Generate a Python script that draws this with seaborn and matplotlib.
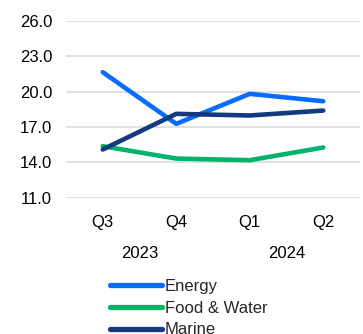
import matplotlib
matplotlib.use("Agg")
import matplotlib.pyplot as plt
import seaborn as sns
import pandas as pd

quarters = ["Q3", "Q4", "Q1", "Q2"]
years = ["2023", "2024"]
series_names = ["Energy", "Food & Water", "Marine"]
energy = [21.65, 17.26, 19.81, 19.18]
food_water = [15.36, 14.31, 14.17, 15.25]
marine = [15.08, 18.11, 17.97, 18.39]
y_ticks = [11.0, 14.0, 17.0, 20.0, 23.0, 26.0]
colors = ["#0A6CFF", "#00B26A", "#133A7E"]

sns.set_theme(style="white")
plt.rcParams["font.family"] = ["Liberation Sans", "DejaVu Sans"]

rows = []
for name, vals in zip(series_names, [energy, food_water, marine]):
    for q, v in zip(quarters, vals):
        rows.append({"quarter": q, "value": v, "series": name})
df = pd.DataFrame(rows)

fig = plt.figure(figsize=(3.63, 3.34), dpi=100)
ax = fig.add_axes([66 / 363, 1 - 197.5 / 334, (360 - 66) / 363, (197.5 - 21) / 334])

sns.lineplot(data=df, x="quarter", y="value", hue="series", palette=colors,
             hue_order=series_names, sort=False, linewidth=3.3, ax=ax,
             legend=True)

ax.set_xlim(-0.5, 3.5)
ax.set_ylim(11.0, 26.0)
ax.set_yticks(y_ticks)
ax.set_yticklabels([f"{t:.1f}" for t in y_ticks])
ax.grid(axis="y", color="#D9D9D9", linewidth=1.1)
ax.grid(axis="x", visible=False)
for s in ax.spines.values():
    s.set_visible(False)
ax.set_xlabel("")
ax.set_ylabel("")
ax.tick_params(axis="x", length=0, pad=12.5, labelsize=12, colors="black")
ax.tick_params(axis="y", length=0, pad=10, labelsize=12, colors="black")

# year labels
for i, yr in enumerate(years):
    ax.text(0.5 + 2 * i, -0.318, yr, transform=ax.get_xaxis_transform(),
            ha="center", va="center", fontsize=12, color="black")

handles, labels = ax.get_legend_handles_labels()
ax.get_legend().remove()
leg = fig.legend(handles, labels, loc="upper left",
                 bbox_to_anchor=(110 / 363, 1 - 279 / 334),
                 frameon=False, fontsize=12, handlelength=3.1,
                 handletextpad=0.2, labelspacing=0.4, borderpad=0,
                 borderaxespad=0)
for h in leg.get_lines():
    h.set_linewidth(3.8)
    h.set_solid_capstyle("round")

fig.savefig("out.png", dpi=100)
